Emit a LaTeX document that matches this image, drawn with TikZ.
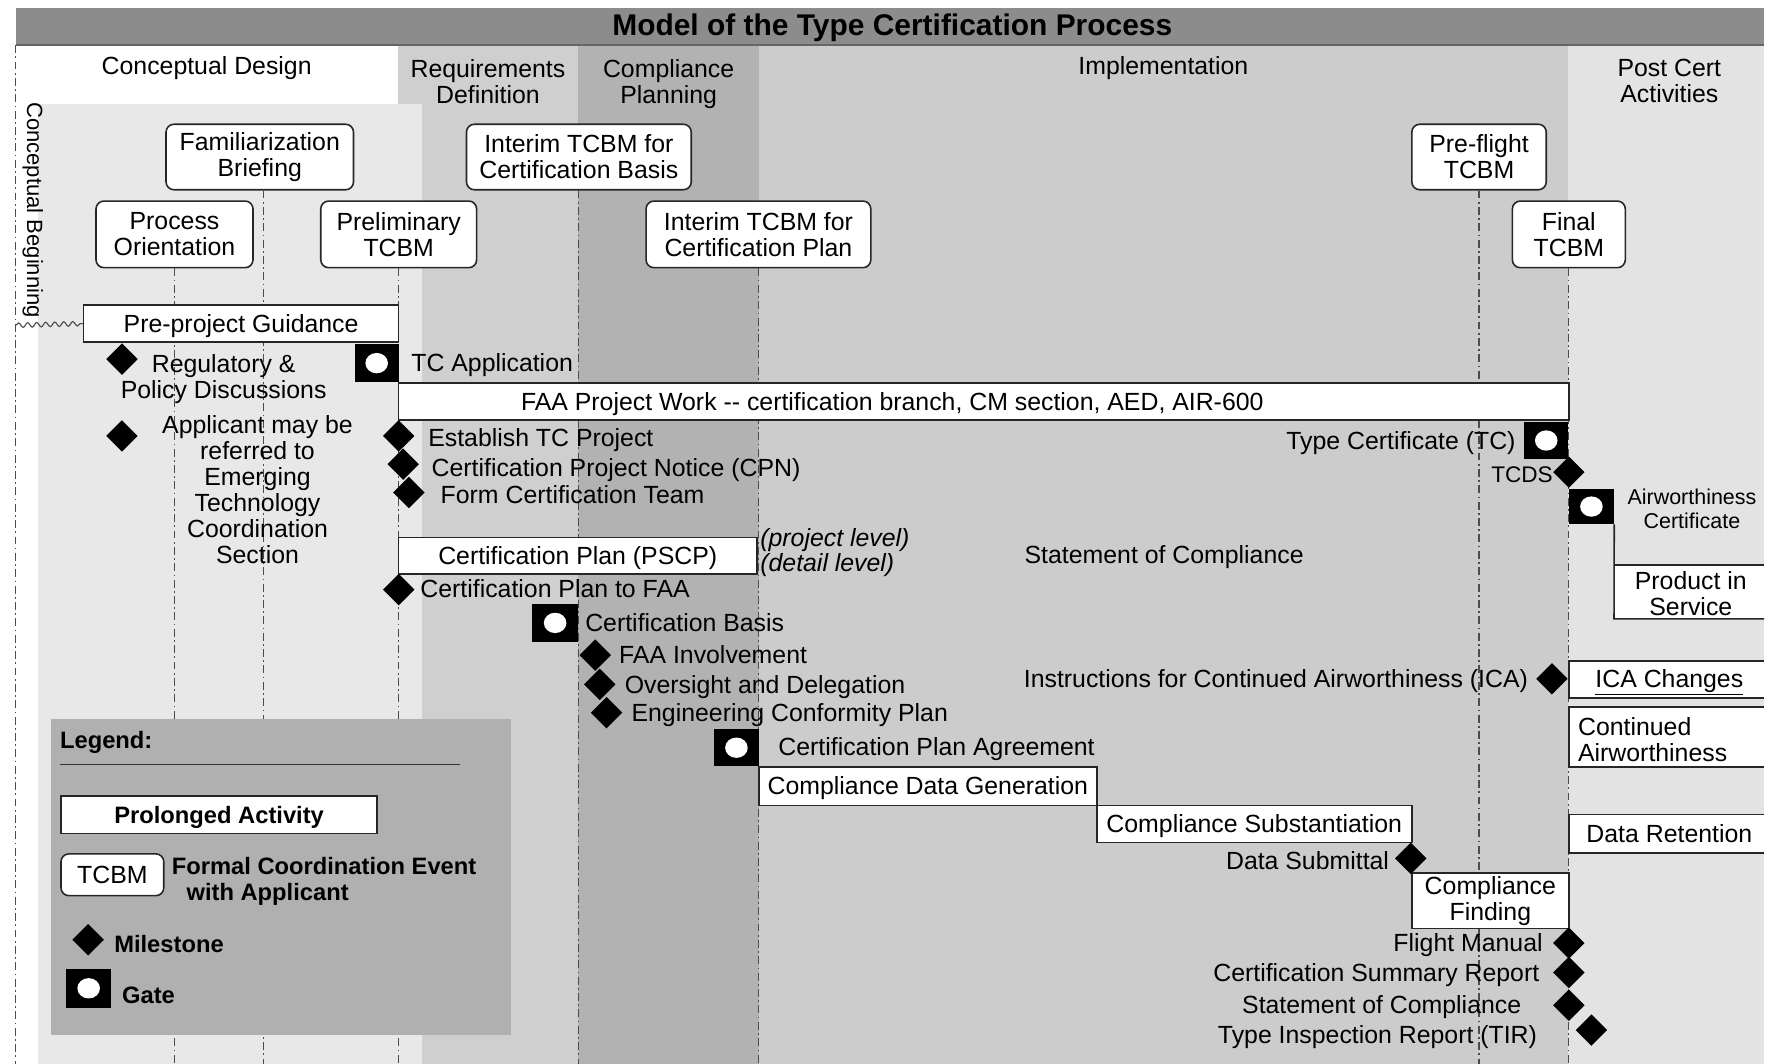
\documentclass[tikz,border=0pt]{standalone}
\usepackage{fontspec}
\setmainfont{Liberation Sans}
\usetikzlibrary{shapes.geometric,decorations.pathmorphing}
\tikzset{
  dd/.style={draw=black!70, line width=1.1pt, dash pattern=on 7pt off 3pt on 1.5pt off 3pt},
  tcbm/.style={draw=black!85, line width=1.4pt, fill=white, rounded corners=7pt, align=center, inner sep=0pt},
  bar/.style={draw=black!85, line width=1.4pt, fill=white, inner sep=0pt, align=center},
  oneline/.style={text height=18pt, text depth=2.5pt},
  ms/.style={diamond, fill=black, inner sep=0pt, minimum width=28pt, minimum height=28pt},
  gate/.style={rectangle, fill=black, inner sep=0pt, path picture={\fill[white] (path picture bounding box.center) ellipse[x radius=10pt, y radius=9pt];}},
  lbl/.style={inner sep=0pt, text height=18pt, text depth=2.5pt},
  mlbl/.style={inner sep=0pt, align=center, yshift=-1.5pt},
  openbox/.style={draw=black!85, line width=1.4pt},
  legbold/.style={font=\bfseries\fontsize{21}{23}\selectfont},
}
\begin{document}
\begin{tikzpicture}[x=1pt,y=-1pt,font=\fontsize{22}{23}\selectfont]
\useasboundingbox (0,0) rectangle (1568,942);
\fill[white] (0,0) rectangle (1568,942);
% phase columns
\fill[black!19] (352,40) rectangle (512,942);
\fill[black!30] (512,40) rectangle (672,942);
\fill[black!20] (672,40) rectangle (1388,942);
\fill[black!11] (1388,40) rectangle (1562,942);
\fill[black!9] (34,92) rectangle (374,942);
% title bar
\fill[black!45] (14,7) rectangle (1562,40);
\draw[black!60, line width=1.5pt] (14,40) -- (1562,40);
\node[font=\bfseries\fontsize{26.5}{28}\selectfont, inner sep=0pt, text height=21pt, text depth=4pt] (title) at (790,23) {Model of the Type Certification Process};
% headers
\node[mlbl] (hcd) at (183,59) {Conceptual Design};
\node[mlbl] (hrd) at (432,71) {Requirements\\Definition};
\node[mlbl] (hcp) at (592,73) {Compliance\\Planning};
\node[mlbl] (him) at (1030,59) {Implementation};
\node[mlbl] (hpc) at (1478,70) {Post Cert\\Activities};
\node[inner sep=0pt, rotate=-90, font=\fontsize{19.5}{21}\selectfont] (cbtext) at (29,186) {Conceptual Beginning};
% TCBM boxes
\node[tcbm, minimum width=166pt, minimum height=58pt] (fam) at (230,139) {Familiarization\\Briefing};
\node[tcbm, minimum width=139pt, minimum height=59pt] (proc) at (154.5,207.5) {Process\\Orientation};
\node[tcbm, minimum width=138pt, minimum height=59pt] (prel) at (353,207.5) {Preliminary\\TCBM};
\node[tcbm, minimum width=199pt, minimum height=58pt] (icb) at (512.5,139) {Interim TCBM for\\Certification Basis};
\node[tcbm, minimum width=199pt, minimum height=59pt] (icp) at (671.5,207.5) {Interim TCBM for\\Certification Plan};
\node[tcbm, minimum width=119pt, minimum height=58pt] (pf) at (1309.5,139) {Pre-flight\\TCBM};
\node[tcbm, minimum width=100pt, minimum height=59pt] (fin) at (1389,207.5) {Final\\TCBM};
% dash-dot lines
\coordinate (bot) at (0,942);
\coordinate (cbtop) at (14,40);
\coordinate (cbbot) at (14,942);
\draw[dd] (cbtop) -- (cbbot);
\draw[dd] (proc.south) -- (proc.south |- bot);
\draw[dd] ([xshift=3pt]fam.south) -- ([xshift=3pt]fam.south |- bot);
\draw[dd] (prel.south) -- (prel.south |- bot);
\draw[dd] (icb.south) -- (icb.south |- bot);
\draw[dd] (icp.south) -- (icp.south |- bot);
\draw[dd] (pf.south) -- (pf.south |- bot);
\draw[dd] (fin.south) -- (fin.south |- bot);
% activity bars
\node[bar, oneline, minimum width=279pt, minimum height=33pt] (pre) at (213.5,286.5) {Pre-project Guidance};
\coordinate (wave) at (14,288);
\draw[black!70, line width=1pt, decorate, decoration={snake, amplitude=2pt, segment length=8pt}] (wave) -- (pre.west);
\node[bar, minimum width=1036pt, minimum height=33pt] (faa) at (871,355.5) {};
\node[lbl] (faat) at (790,356) {FAA Project Work {-}{-} certification branch, CM section, AED, AIR-600};
\node[bar, oneline, minimum width=317pt, minimum height=32pt] (pscp) at (511.5,492) {Certification Plan (PSCP)};
\node[bar, oneline, minimum width=299pt, minimum height=34pt] (cdg) at (821.5,696) {Compliance Data Generation};
\node[bar, oneline, minimum width=279pt, minimum height=33pt] (csub) at (1110.5,729.5) {Compliance Substantiation};
\node[bar, minimum width=139pt, minimum height=49pt] (cfind) at (1319.5,797.5) {Compliance\\Finding};
% conceptual design milestones
\node[ms] (m1) at (108,318) {};
\node[mlbl] (t1) at (198,334) {Regulatory \&\\Policy Discussions};
\node[ms] (m2) at (108,386) {};
\node[mlbl] (t2) at (228,432) {Applicant may be\\referred to\\Emerging\\Technology\\Coordination\\Section};
\node[gate, minimum width=39pt, minimum height=33pt] (g1) at (333.5,321.5) {};
\node[lbl, anchor=west] (tg1) at (364,321) {TC Application};
% requirements milestones
\node[ms] (m3) at (353,386) {};
\node[lbl, anchor=west] (t3) at (379,388) {Establish TC Project};
\node[ms] (m4) at (357,411) {};
\node[lbl, anchor=west] (t4) at (382,414) {Certification Project Notice (CPN)};
\node[ms] (m5) at (362,436) {};
\node[lbl, anchor=west] (t5) at (390,438) {Form Certification Team};
\node[lbl, anchor=west, font=\itshape\fontsize{22}{23}\selectfont] (tpl) at (673,476) {(project level)};
\node[lbl, anchor=west, font=\itshape\fontsize{22}{23}\selectfont] (tdl) at (673,498) {(detail level)};
\node[ms] (m6) at (353,522) {};
\node[lbl, anchor=west] (t6) at (372,521) {Certification Plan to FAA};
\node[gate, minimum width=41pt, minimum height=33pt] (g2) at (491.5,551.5) {};
\node[lbl, anchor=west] (tg2) at (518,551) {Certification Basis};
\node[ms] (m7) at (527,580) {};
\node[lbl, anchor=west] (t7) at (548,580) {FAA Involvement};
\node[ms] (m8) at (531,606) {};
\node[lbl, anchor=west] (t8) at (553,606) {Oversight and Delegation};
\node[ms] (m9) at (537,631) {};
\node[lbl, anchor=west] (t9) at (559,631) {Engineering Conformity Plan};
\node[gate, minimum width=40pt, minimum height=33pt] (g3) at (652,662) {};
\node[lbl, anchor=west] (tg3) at (689,661) {Certification Plan Agreement};
% implementation
\node[lbl, anchor=west] (soc) at (907,491) {Statement of Compliance};
\node[gate, minimum width=39pt, minimum height=32pt] (g4) at (1369,390) {};
\node[lbl, anchor=east] (tg4) at (1342,390) {Type Certificate (TC)};
\node[ms] (m11) at (1389,418) {};
\node[lbl, anchor=east, font=\fontsize{20}{22}\selectfont] (t11) at (1375,419) {TCDS};
\node[ms] (m10) at (1374,601) {};
\node[lbl, anchor=east] (t10) at (1353,601) {Instructions for Continued Airworthiness (ICA)};
\node[ms] (m12) at (1249,760) {};
\node[lbl, anchor=east] (t12) at (1230,762) {Data Submittal};
\node[ms] (m13) at (1389,835) {};
\node[lbl, anchor=east] (t13) at (1366,835) {Flight Manual};
\node[ms] (m14) at (1389,861) {};
\node[lbl, anchor=east] (t14) at (1363,861) {Certification Summary Report};
\node[ms] (m15) at (1389,890) {};
\node[lbl, anchor=east] (t15) at (1347,890) {Statement of Compliance};
\node[ms] (m16) at (1409,912) {};
\node[lbl, anchor=east] (t16) at (1361,916) {Type Inspection Report (TIR)};
% post cert
\node[gate, minimum width=40pt, minimum height=31pt] (g5) at (1409,448.5) {};
\node[mlbl, font=\fontsize{19}{21}\selectfont] (tg5) at (1498,449) {Airworthiness\\Certificate};
\fill[white] (1429,500) rectangle (1562,548);
\draw[openbox] (g5.south east) -- (1429,548) -- (1562,548);
\draw[openbox] (1429,500) -- (1562,500);
\node[mlbl] (pis) at (1497,524) {Product in\\Service};
\fill[white] (1389,585) rectangle (1562,618);
\draw[openbox] (1562,585) -- (1389,585) -- (1389,618) -- (1562,618);
\node[lbl] (ica) at (1478,601) {\underline{ICA Changes}};
\fill[white] (1389,626) rectangle (1562,679);
\draw[openbox] (1562,626) -- (1389,626) -- (1389,679) -- (1562,679);
\node[mlbl, align=left, anchor=west] (cair) at (1397,653) {Continued\\Airworthiness};
\fill[white] (1389,721) rectangle (1562,755);
\draw[openbox] (1562,721) -- (1389,721) -- (1389,755) -- (1562,755);
\node[lbl] (dret) at (1478,738) {Data Retention};
% legend
\node[rectangle, fill=black!31, minimum width=407pt, minimum height=279pt, inner sep=0pt] (leg) at (248.5,776.5) {};
\node[lbl, anchor=west, legbold] (legt) at (53,655) {Legend:};
\coordinate (ll) at (53,677);
\coordinate (lr) at (407,677);
\draw[black!80, line width=1.3pt] (ll) -- (lr);
\node[bar, oneline, minimum width=280pt, minimum height=33pt, legbold] (lpa) at (194,721.5) {Prolonged Activity};
\node[tcbm, oneline, minimum width=91pt, minimum height=37pt] (ltc) at (99.5,774.5) {TCBM};
\node[mlbl, align=left, anchor=west, legbold] (lfc) at (152,779) {Formal Coordination Event\\\hspace*{13pt}with Applicant};
\node[ms] (lms) at (78,832) {};
\node[lbl, anchor=west, legbold] (lmst) at (101,836) {Milestone};
\node[gate, minimum width=40pt, minimum height=35pt] (lg) at (78.5,875) {};
\node[lbl, anchor=west, legbold] (lgt) at (108,881) {Gate};
\end{tikzpicture}
\end{document}
